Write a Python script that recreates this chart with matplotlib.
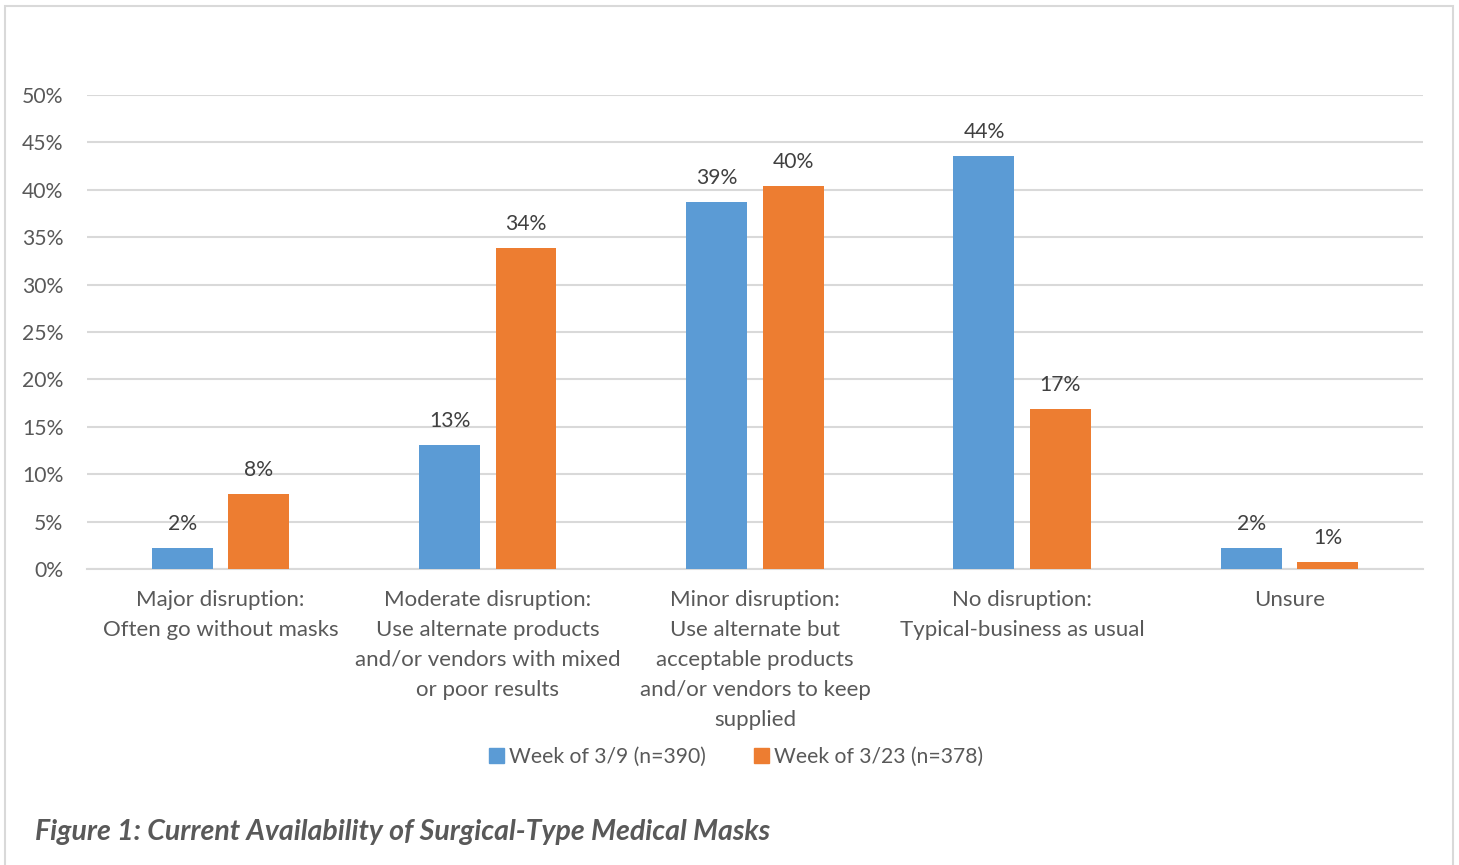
import numpy as np
import matplotlib
matplotlib.use("Agg")
import matplotlib.pyplot as plt
import matplotlib.patches as mpatches
from matplotlib.ticker import PercentFormatter

plt.rcParams['font.family'] = ['Lato', 'DejaVu Sans']

# Data
categories = [
    "Major disruption:\nOften go without masks",
    "Moderate disruption:\nUse alternate products\nand/or vendors with mixed\nor poor results",
    "Minor disruption:\nUse alternate but\nacceptable products\nand/or vendors to keep\nsupplied",
    "No disruption:\nTypical-business as usual",
    "Unsure",
]
week_39 = [2.2, 13.1, 38.7, 43.6, 2.2]
week_323 = [7.9, 33.9, 40.4, 16.9, 0.74]
series_names = ["Week of 3/9 (n=390)", "Week of 3/23 (n=378)"]

BLUE = '#5B9BD5'
ORANGE = '#ED7D31'
TXT = '#595959'
GRID = '#D9D9D9'

fig = plt.figure(figsize=(14.59, 8.65), dpi=100)
ax = fig.add_axes([0.0596, 0.3422, 0.9157, 0.548])

x = np.arange(len(categories))
w = 0.228
off = 0.143
b1 = ax.bar(x - off, week_39, width=w, color=BLUE, zorder=3)
b2 = ax.bar(x + off, week_323, width=w, color=ORANGE, zorder=3)

for bars, vals in [(b1, week_39), (b2, week_323)]:
    for r, v in zip(bars, vals):
        ax.annotate(f"{round(v):.0f}%", (r.get_x() + r.get_width() / 2, v),
                    xytext=(0, 10), textcoords='offset points',
                    ha='center', va='bottom', fontsize=15.2, color='#404040')

ax.set_xlim(-0.5, len(categories) - 0.5)
ax.set_ylim(0, 50)
ax.set_yticks(np.arange(0, 51, 5))
ax.yaxis.set_major_formatter(PercentFormatter(decimals=0))
ax.grid(True, axis='y', color=GRID, lw=1.5, zorder=0)
for s in ['top', 'right', 'left']:
    ax.spines[s].set_visible(False)
ax.spines['bottom'].set_color(GRID)
ax.spines['bottom'].set_linewidth(1.5)
ax.tick_params(axis='both', length=0, colors=TXT)
ax.tick_params(axis='y', pad=17, labelsize=15.2)
ax.tick_params(axis='x', pad=15, labelsize=16)
ax.set_xticks(x)
ax.set_xticklabels(categories, linespacing=1.62)

handles = [mpatches.Patch(color=BLUE, label=series_names[0]),
           mpatches.Patch(color=ORANGE, label=series_names[1])]
fig.legend(handles=handles, loc='center', bbox_to_anchor=(0.5045, 0.125), ncol=2,
           frameon=False, fontsize=15.2, handlelength=0.7, handleheight=0.7,
           handletextpad=0.25, columnspacing=2.3, labelcolor=TXT)

fig.text(0.024, 0.038, "Figure 1: Current Availability of Surgical-Type Medical Masks",
         fontsize=20.5, fontweight='bold', fontstyle='italic', color=TXT,
         ha='left', va='center')

fig.add_artist(mpatches.Rectangle((5 / 1459, -0.01), 1448 / 1459, 1 - 6 / 865 + 0.01,
                                  transform=fig.transFigure, fill=False,
                                  edgecolor='#D9D9D9', lw=1.5))

fig.savefig("out.png", dpi=100)
